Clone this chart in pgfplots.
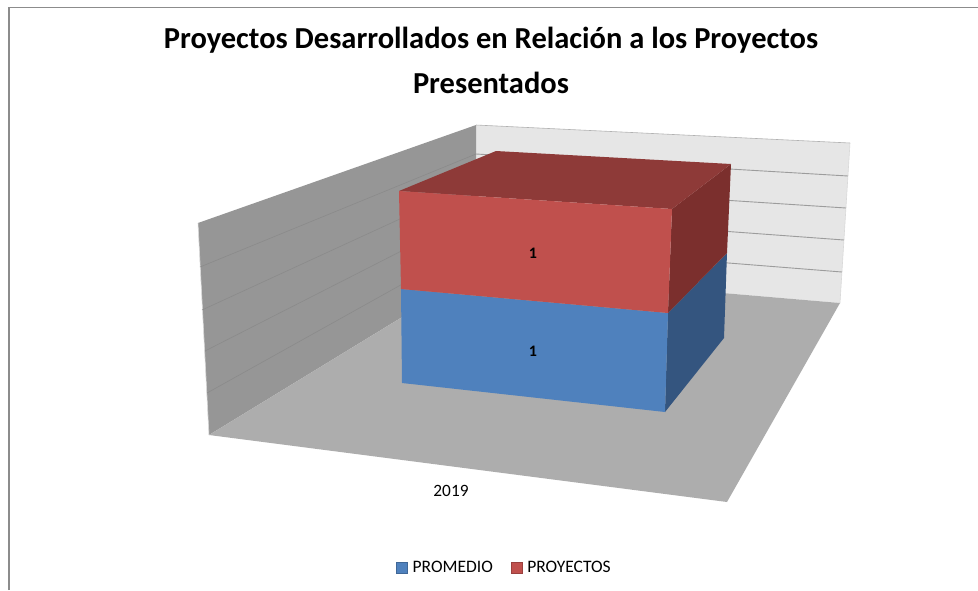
\documentclass[border=0pt]{standalone}
\usepackage{fontspec}
\setmainfont{Carlito}
\usepackage{pgfplots}
\pgfplotsset{compat=1.18}

\definecolor{wallleft}{HTML}{969696}
\definecolor{wallback}{HTML}{E6E6E6}
\definecolor{floorgray}{HTML}{ADADAD}
\definecolor{gridleft}{HTML}{8A8A8A}
\definecolor{gridback}{HTML}{9C9C9C}
\definecolor{blue1}{HTML}{4F81BD}
\definecolor{blueside}{HTML}{34557F}
\definecolor{red1}{HTML}{C0504D}
\definecolor{redtop}{HTML}{8E3A38}
\definecolor{redside}{HTML}{7B2F2D}

% the 3D view is drawn in picture pixels, y pointing down
\begin{document}
\begin{tikzpicture}
\begin{axis}[
    scale only axis, width=978pt, height=590pt,
    xmin=0, xmax=978, ymin=0, ymax=590, y dir=reverse,
    axis lines=none, clip=true,
    legend style={at={(axis cs:504.5,568)}, anchor=center, draw=none, fill=none,
        legend columns=2, font=\fontsize{17.5}{20}\selectfont,
        /tikz/every even column/.append style={column sep=16pt},
        /tikz/every odd column/.append style={column sep=3pt},
        inner sep=0pt},
    legend image code/.code={
        \draw[#1] (0pt,-5.5pt) rectangle (11pt,5.5pt);
    },
]
% page background, keeps the bounding box at the full axis
\addplot[forget plot, fill=white, draw=none] coordinates {(0,0) (978,0) (978,590) (0,590) (0,0)};
% frame
\addplot[forget plot, color=black!45, line width=1.4pt] coordinates {(9,590) (9,7.5) (978,7.5)};
% walls and floor
\addplot[forget plot, fill=wallback, draw=none] coordinates {(476,125) (850,143) (840,303) (476,272) (476,125)};
\addplot[forget plot, fill=wallleft, draw=none] coordinates {(198,223) (476,125) (476,272) (209,435) (198,223)};
\addplot[forget plot, fill=floorgray, draw=none] coordinates {(209,435) (476,272) (840,303) (727,502) (209,435)};
\addplot[forget plot, color=black!30, line width=0.6pt] coordinates {(476,125) (850,143)};
\addplot[forget plot, color=black!15, line width=0.6pt] coordinates {(198,223) (209,435)};
\addplot[forget plot, color=black!15, line width=0.6pt] coordinates {(850,143) (840,303)};
% gridlines, left wall then back wall
\addplot[forget plot, color=gridleft, line width=0.6pt] coordinates {(200,267) (476,154)};
\addplot[forget plot, color=gridleft, line width=0.6pt] coordinates {(202,310) (476,184)};
\addplot[forget plot, color=gridleft, line width=0.6pt] coordinates {(205,351) (476,213)};
\addplot[forget plot, color=gridleft, line width=0.6pt] coordinates {(207,393) (476,243)};
\addplot[forget plot, color=gridback, line width=0.9pt] coordinates {(476,154) (848,176)};
\addplot[forget plot, color=gridback, line width=0.9pt] coordinates {(476,184) (846,208)};
\addplot[forget plot, color=gridback, line width=0.9pt] coordinates {(476,213) (844,240)};
\addplot[forget plot, color=gridback, line width=0.9pt] coordinates {(476,243) (842,272)};
% PROMEDIO
\addplot[forget plot, fill=blueside, draw=none] coordinates {(668,313) (727,253) (724,338) (665,412) (668,313)};
\addplot[forget plot, fill=blue1, draw=none] coordinates {(401,289) (668,313) (665,412) (402,383) (401,289)};
% PROYECTOS
\addplot[forget plot, fill=redside, draw=none] coordinates {(672,209) (731,164) (727,253) (668,313) (672,209)};
\addplot[forget plot, fill=redtop, draw=none] coordinates {(399,191) (496,151) (731,164) (672,209) (399,191)};
\addplot[forget plot, fill=red1, draw=none] coordinates {(399,191) (672,209) (668,313) (401,289) (399,191)};

\addlegendimage{fill=blue1, draw=blue1!80!black}
\addlegendentry{PROMEDIO}
\addlegendimage{fill=red1, draw=red1!80!black}
\addlegendentry{PROYECTOS}

\node[font=\fontsize{30.5}{45}\selectfont\bfseries, align=center] at (axis cs:491,60.5)
    {Proyectos Desarrollados en Relación a los Proyectos\\Presentados};
\node[font=\fontsize{16}{18}\selectfont\bfseries] at (axis cs:533,253) {1};
\node[font=\fontsize{16}{18}\selectfont\bfseries] at (axis cs:533,351) {1};
\node[font=\fontsize{17.3}{20}\selectfont] at (axis cs:451,491) {2019};
\end{axis}
\end{tikzpicture}
\end{document}
